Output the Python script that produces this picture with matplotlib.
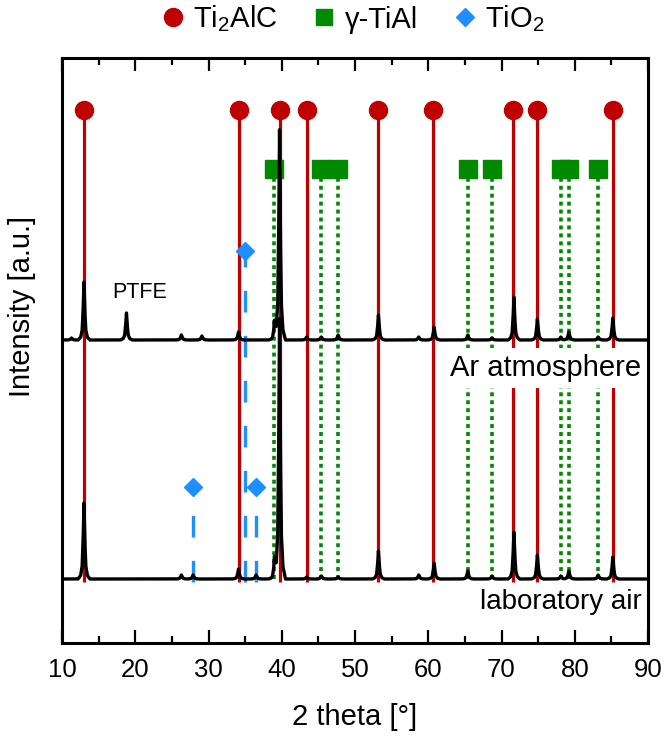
import numpy as np
import matplotlib
matplotlib.use("Agg")
import matplotlib.pyplot as plt
from matplotlib.lines import Line2D
from matplotlib.ticker import MultipleLocator

plt.rcParams['font.family'] = ['Liberation Sans', 'DejaVu Sans']
plt.rcParams['mathtext.fontset'] = 'custom'
plt.rcParams['mathtext.rm'] = 'Liberation Sans'
plt.rcParams['mathtext.default'] = 'regular'

# ---------------- data ----------------
ti2alc_pos = [13.0, 34.1, 39.7, 43.4, 53.2, 60.7, 71.6, 74.8, 85.2]
tial_pos = [39.0, 45.4, 47.7, 65.4, 68.7, 78.1, 79.2, 83.2]
tio2_ar_pos = [35.0]
tio2_air_pos = [27.9, 36.5]

# XRD pattern, Ar atmosphere: peak positions and intensities (a.u.)
ar_peak_pos = [11.3, 13.0, 18.8, 26.3, 29.1, 34.1, 39.0, 39.7, 43.4, 45.4, 47.7,
               53.2, 58.7, 60.8, 65.4, 68.7, 71.7, 74.9, 78.1, 79.2, 83.2, 85.2]
ar_peak_int = [2, 58, 27, 5, 4, 8, 17, 210, 3, 3, 5,
               25, 3, 13, 5, 2, 43, 21, 3, 8, 3, 22]

# XRD pattern, laboratory air
air_peak_pos = [13.0, 26.3, 27.9, 34.1, 36.5, 39.0, 39.7, 43.4, 45.4, 47.7,
                53.2, 58.7, 60.8, 65.4, 68.7, 71.7, 74.9, 78.1, 79.2, 83.2, 85.2]
air_peak_int = [76, 4, 4, 10, 4, 19, 260, 2, 3, 2,
                28, 4, 16, 8, 3, 47, 24, 3, 8, 4, 22]

# vertical placement (a.u.)
ar_offset = 303
air_offset = 64
ti2alc_marker_y = 533
tial_marker_y = 474
tio2_ar_marker_y = 392
tio2_air_marker_y = 156
line_bottom = 61

xticks = [10, 20, 30, 40, 50, 60, 70, 80, 90]

# ---------------- styles ----------------
RED = '#C00000'
GREEN = '#008A00'
BLUE = '#1E8FFF'
shape_dx = np.array([-0.8, -0.45, -0.25, -0.12, 0.0, 0.12, 0.25, 0.45, 0.8])
shape_fr = np.array([0.0, 0.05, 0.17, 0.5, 1.0, 0.5, 0.17, 0.05, 0.0])


def pattern(pos, inten, offset):
    xs = np.arange(10.0, 90.0001, 0.01)
    ys = np.zeros_like(xs)
    for p, h in zip(pos, inten):
        ys += h * np.interp(xs, p + shape_dx, shape_fr, left=0, right=0)
    return xs, ys + offset


fig = plt.figure(figsize=(6.67, 7.40), dpi=100)
ax = fig.add_axes([62 / 667, 1 - 643 / 740, 586 / 667, 585 / 740])
ax.set_xlim(10, 90)
ax.set_ylim(0, 585)

# reference lines
ax.vlines(ti2alc_pos, line_bottom, ti2alc_marker_y, colors=RED, lw=2.3, zorder=2)
ax.plot(ti2alc_pos, [ti2alc_marker_y] * len(ti2alc_pos), 'o', color=RED, ms=13, zorder=2.5)

for p in tial_pos:
    ax.plot([p, p], [line_bottom + 3, tial_marker_y], color=GREEN, lw=2.6,
            dashes=(1.1, 1.1), zorder=2)
ax.plot(tial_pos, [tial_marker_y] * len(tial_pos), 's', color=GREEN, ms=13, zorder=2.5)

for p in tio2_ar_pos:
    ax.plot([p, p], [line_bottom, tio2_ar_marker_y], color=BLUE, lw=2.4,
            dashes=(6.5, 7), zorder=2)
ax.plot(tio2_ar_pos, [tio2_ar_marker_y] * len(tio2_ar_pos), 'D', color=BLUE, ms=9.5, zorder=2.5)
for p in tio2_air_pos:
    ax.plot([p, p], [line_bottom, tio2_air_marker_y], color=BLUE, lw=2.4,
            dashes=(6.5, 7), zorder=2)
ax.plot(tio2_air_pos, [tio2_air_marker_y] * len(tio2_air_pos), 'D', color=BLUE, ms=9.5, zorder=2.5)

# patterns
x1, y1 = pattern(ar_peak_pos, ar_peak_int, ar_offset)
x2, y2 = pattern(air_peak_pos, air_peak_int, air_offset)
ax.plot(x2, y2, color='black', lw=2.4, zorder=4, solid_joinstyle='round')
ax.plot(x1, y1, color='black', lw=2.4, zorder=4, solid_joinstyle='round')

# annotations
ax.text(89.0, 275, 'Ar atmosphere', ha='right', va='center', fontsize=21, zorder=3,
        bbox=dict(boxstyle='square,pad=0.2', facecolor='white', edgecolor='none'))
ax.text(89.2, 41, 'laboratory air', ha='right', va='center', fontsize=20, zorder=3)
ax.text(20.6, 351, 'PTFE', ha='center', va='center', fontsize=15.5, zorder=3)

# axes styling
for s in ax.spines.values():
    s.set_linewidth(2.2)
ax.set_xticks(xticks)
ax.set_xticklabels([str(t) for t in xticks])
ax.xaxis.set_minor_locator(MultipleLocator(5))
ax.tick_params(axis='x', which='both', direction='in', top=True, width=1.6,
               labelsize=18.5, pad=11)
ax.tick_params(axis='x', which='major', length=9.5)
ax.tick_params(axis='x', which='minor', length=5)
ax.set_yticks([])
ax.set_xlabel('2 theta [°]', fontsize=21, labelpad=15)
ax.set_ylabel('Intensity [a.u.]', fontsize=21)
ax.yaxis.set_label_coords(-0.045, 0.575)

handles = [
    Line2D([], [], ls='none', marker='o', color=RED, ms=13),
    Line2D([], [], ls='none', marker='s', color=GREEN, ms=12),
    Line2D([], [], ls='none', marker='D', color=BLUE, ms=9.5),
]
fig.legend(handles, ['Ti$_2$AlC', 'γ-TiAl', 'TiO$_2$'], loc='center',
           bbox_to_anchor=(350 / 667, 1 - 19 / 740), ncol=3, frameon=False,
           fontsize=21, handletextpad=0.1, columnspacing=1.0, handlelength=1.2)

fig.savefig('out.png', dpi=100)
